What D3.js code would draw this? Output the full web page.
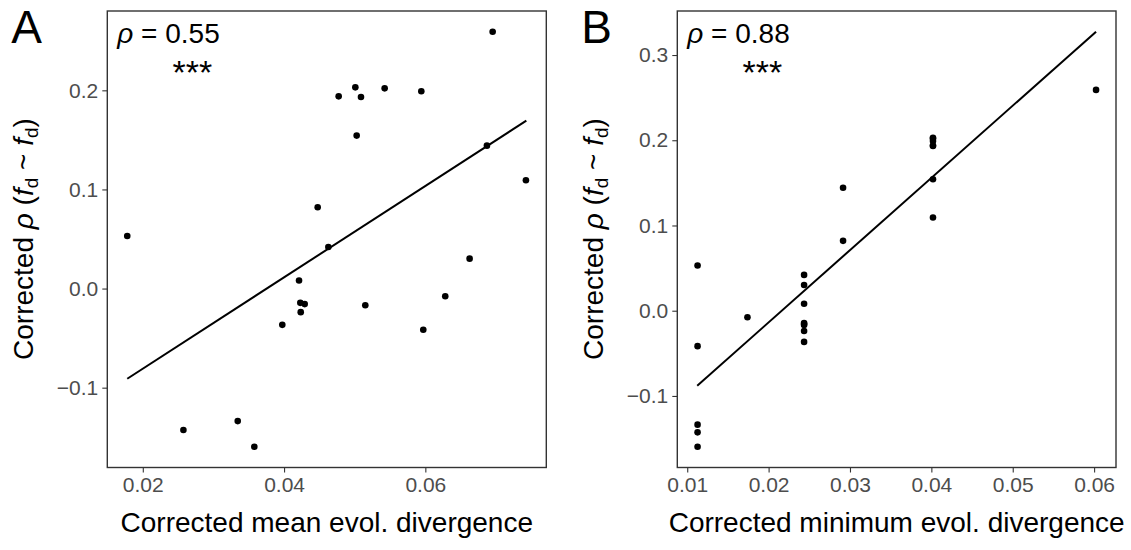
<!DOCTYPE html>
<html lang="en">

<head>
    <meta charset="UTF-8">
    <script src="https://d3js.org/d3.v7.min.js"></script>
    <title>Corrected rho vs evol. divergence</title>
    <style>
        body { margin: 0; background: #fff; }
        text { font-family: "Liberation Sans", Arial, Helvetica, sans-serif; }
    </style>
</head>

<body>
    <svg class="fig"></svg>
    <script>
        // corrected rho (f_d ~ f_d), same 24 cases in both panels
        var rhoVals = [0.0531, -0.1427, -0.1337, -0.1596, -0.0366, 0.0081, -0.0144, -0.0157,
            -0.0238, 0.0820, 0.0420, 0.1939, 0.2030, 0.1932, 0.1543, -0.0168,
            0.2020, 0.1990, -0.0416, -0.0077, 0.0302, 0.1442, 0.2591, 0.1093];
        // panel A: corrected mean evol. divergence
        var meanDiv = [0.0178, 0.02575, 0.03344, 0.03579, 0.03975, 0.04212, 0.0423, 0.04292,
            0.04236, 0.04476, 0.04627, 0.04773, 0.05009, 0.05089, 0.05028, 0.0515,
            0.05424, 0.05943, 0.05971, 0.06282, 0.06627, 0.06872, 0.06953, 0.07424];
        // panel B: corrected minimum evol. divergence
        var minDiv = [0.01127, 0.01127, 0.01127, 0.01127, 0.02436, 0.02436, 0.02436, 0.02436,
            0.02436, 0.02915, 0.02436, 0.0402, 0.0402, 0.0402, 0.0402, 0.02436,
            0.0402, 0.0402, 0.01127, 0.0174, 0.02436, 0.02915, 0.06024, 0.0402];

        // fitted lines (end points)
        var fitAx = [0.0178, 0.0743], fitAy = [-0.0910, 0.1694];
        var fitBx = [0.01123, 0.06024], fitBy = [-0.0880, 0.3273];

        var ticksAx = [0.02, 0.04, 0.06], ticksAy = [-0.1, 0.0, 0.1, 0.2];
        var ticksBx = [0.01, 0.02, 0.03, 0.04, 0.05, 0.06], ticksBy = [-0.1, 0.0, 0.1, 0.2, 0.3];

        var svg = d3.select(".fig").attr("width", 1131).attr("height", 550);

        function pad(ext) {
            var d = (ext[1] - ext[0]) * 0.05;
            return [ext[0] - d, ext[1] + d];
        }

        function panel(opt) {
            var g = svg.append("g");
            var xs = d3.scaleLinear().domain(pad(d3.extent(opt.x.concat(opt.fx)))).range([opt.left, opt.right]);
            var ys = d3.scaleLinear().domain(pad(d3.extent(opt.y.concat(opt.fy)))).range([467.5, 11]);

            var xAxis = g.append("g")
                .attr("transform", "translate(0,467.5)")
                .call(d3.axisBottom(xs).tickValues(opt.tx).tickFormat(d3.format(opt.fmtX)).tickSize(5).tickPadding(5));
            var yAxis = g.append("g")
                .attr("transform", "translate(" + opt.left + ",0)")
                .call(d3.axisLeft(ys).tickValues(opt.ty).tickFormat(d3.format(".1f")).tickSize(5).tickPadding(4));
            [xAxis, yAxis].forEach(function(a) {
                a.select(".domain").remove();
                a.selectAll("line").attr("stroke", "#333333").attr("stroke-width", 1.1);
                a.selectAll("text").attr("fill", "#4d4d4d").style("font-size", "21px");
            });

            g.append("rect")
                .attr("x", opt.left).attr("y", 11)
                .attr("width", opt.right - opt.left).attr("height", 456.5)
                .attr("fill", "none").attr("stroke", "#333333").attr("stroke-width", 1.4);

            g.append("line")
                .attr("x1", xs(opt.fx[0])).attr("y1", ys(opt.fy[0]))
                .attr("x2", xs(opt.fx[1])).attr("y2", ys(opt.fy[1]))
                .attr("stroke", "black").attr("stroke-width", 2);

            g.selectAll("circle").data(opt.x).enter().append("circle")
                .attr("cx", function(d) { return xs(d); })
                .attr("cy", function(d, i) { return ys(opt.y[i]); })
                .attr("r", 3.3)
                .attr("fill", "black");

            // panel letter
            g.append("text")
                .attr("x", opt.left - 96).attr("y", 43)
                .style("font-size", "46px")
                .text(opt.letter);

            // rho annotation
            var t = g.append("text")
                .attr("x", opt.left + 10).attr("y", 43)
                .style("font-size", "28px");
            t.append("tspan").style("font-style", "italic").text("\u03c1");
            t.append("tspan").text(" = " + opt.rho);

            g.append("text")
                .attr("x", opt.left + 85).attr("y", 84)
                .attr("text-anchor", "middle")
                .style("font-size", "34px")
                .text("***");

            g.append("text")
                .attr("x", (opt.left + opt.right) / 2).attr("y", 532)
                .attr("text-anchor", "middle")
                .style("font-size", "28px")
                .text(opt.xlab);

            var yl = g.append("text")
                .attr("transform", "translate(" + (opt.left - 74) + ",239) rotate(-90)")
                .attr("text-anchor", "middle")
                .style("font-size", "28px");
            yl.append("tspan").text("Corrected ");
            yl.append("tspan").style("font-style", "italic").text("\u03c1");
            yl.append("tspan").text(" (");
            yl.append("tspan").style("font-style", "italic").text("f");
            yl.append("tspan").attr("dy", 5).style("font-size", "19px").text("d");
            yl.append("tspan").attr("dy", -5).text(" ~ ");
            yl.append("tspan").style("font-style", "italic").text("f");
            yl.append("tspan").attr("dy", 5).style("font-size", "19px").text("d");
            yl.append("tspan").attr("dy", -5).text(")");
        }

        panel({
            letter: "A", rho: "0.55", left: 107.3, right: 546.3,
            x: meanDiv, y: rhoVals, fx: fitAx, fy: fitAy,
            tx: ticksAx, ty: ticksAy, fmtX: ".2f",
            xlab: "Corrected mean evol. divergence"
        });
        panel({
            letter: "B", rho: "0.88", left: 677.3, right: 1116,
            x: minDiv, y: rhoVals, fx: fitBx, fy: fitBy,
            tx: ticksBx, ty: ticksBy, fmtX: ".2f",
            xlab: "Corrected minimum evol. divergence"
        });
    </script>
</body>

</html>
